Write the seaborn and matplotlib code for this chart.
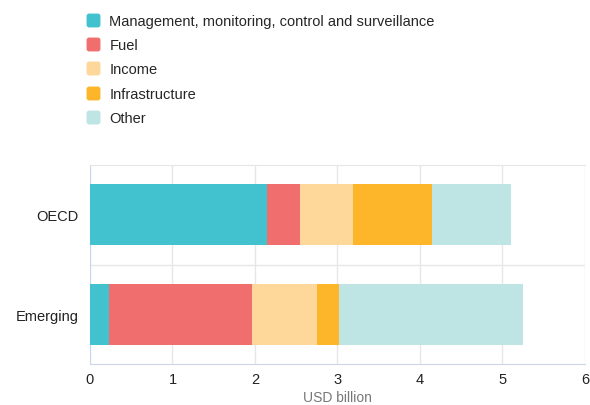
import seaborn as sns
import pandas as pd
import matplotlib.pyplot as plt
from matplotlib.lines import Line2D
from matplotlib.path import Path

regions = ['OECD', 'Emerging']
series = ['Management, monitoring, control and surveillance', 'Fuel', 'Income',
          'Infrastructure', 'Other']
management = [2.14, 0.23]
fuel = [0.40, 1.73]
income = [0.65, 0.79]
infrastructure = [0.95, 0.27]
other = [0.96, 2.23]
colors = ['#42c2cf', '#f06e6e', '#fed79b', '#fdb52a', '#bee4e4']

df = pd.DataFrame({'region': regions, series[0]: management, series[1]: fuel,
                   series[2]: income, series[3]: infrastructure, series[4]: other})
cum = df[series].cumsum(axis=1)
cum['region'] = df['region']

sns.set_style('white')
plt.rcParams['font.family'] = ['Liberation Sans', 'DejaVu Sans']

# rounded square marker for the legend
r, k = 0.3, 0.3 * 0.55
verts = [(-1 + r, -1), (1 - r, -1), (1 - r + k, -1), (1, -1 + r - k), (1, -1 + r),
         (1, 1 - r), (1, 1 - r + k), (1 - r + k, 1), (1 - r, 1),
         (-1 + r, 1), (-1 + r - k, 1), (-1, 1 - r + k), (-1, 1 - r),
         (-1, -1 + r), (-1, -1 + r - k), (-1 + r - k, -1), (-1 + r, -1)]
codes = [Path.MOVETO, Path.LINETO, Path.CURVE4, Path.CURVE4, Path.CURVE4,
         Path.LINETO, Path.CURVE4, Path.CURVE4, Path.CURVE4,
         Path.LINETO, Path.CURVE4, Path.CURVE4, Path.CURVE4,
         Path.LINETO, Path.CURVE4, Path.CURVE4, Path.CURVE4]
rsquare = Path(verts, codes)

fig = plt.figure(figsize=(5.9, 4.06), dpi=100)
ax = fig.add_axes([0.1525, 0.101, 0.839, 0.49])

# stacked bars: draw cumulative totals from the outermost inwards
for s, c in reversed(list(zip(series, colors))):
    sns.barplot(data=cum, y='region', x=s, orient='h', color=c, width=0.61,
                saturation=1, ax=ax, linewidth=0, zorder=3)

ax.set_xlim(0, 6)
ax.set_ylim(1.5, -0.5)
ax.set_xticks(range(7))
ax.grid(axis='x', color='#e6e6e6', linewidth=1, zorder=0)
ax.axhline(0.5, color='#e6e6e6', linewidth=1, zorder=1)
ax.spines['top'].set_color('#e6e6e6')
ax.spines['right'].set_visible(False)
ax.spines['left'].set_color('#ccd6eb')
ax.spines['bottom'].set_color('#ccd6eb')
ax.tick_params(length=0, labelsize=10.5, colors='#222222')
ax.tick_params(axis='y', pad=8)
ax.tick_params(axis='x', pad=6)
ax.set_ylabel('')
ax.set_xlabel('USD billion', color='#777777', fontsize=10, labelpad=3)

handles = [Line2D([], [], linestyle='none', marker=rsquare, markersize=9,
                  markerfacecolor=c, markeredgecolor=c) for c in colors]
fig.legend(handles, series, loc='upper left', bbox_to_anchor=(0.1275, 0.99),
           frameon=False, fontsize=10.5, labelspacing=0.7, handlelength=1.0,
           handletextpad=0.6, borderaxespad=0.35)

fig.savefig('out.png', dpi=100)
